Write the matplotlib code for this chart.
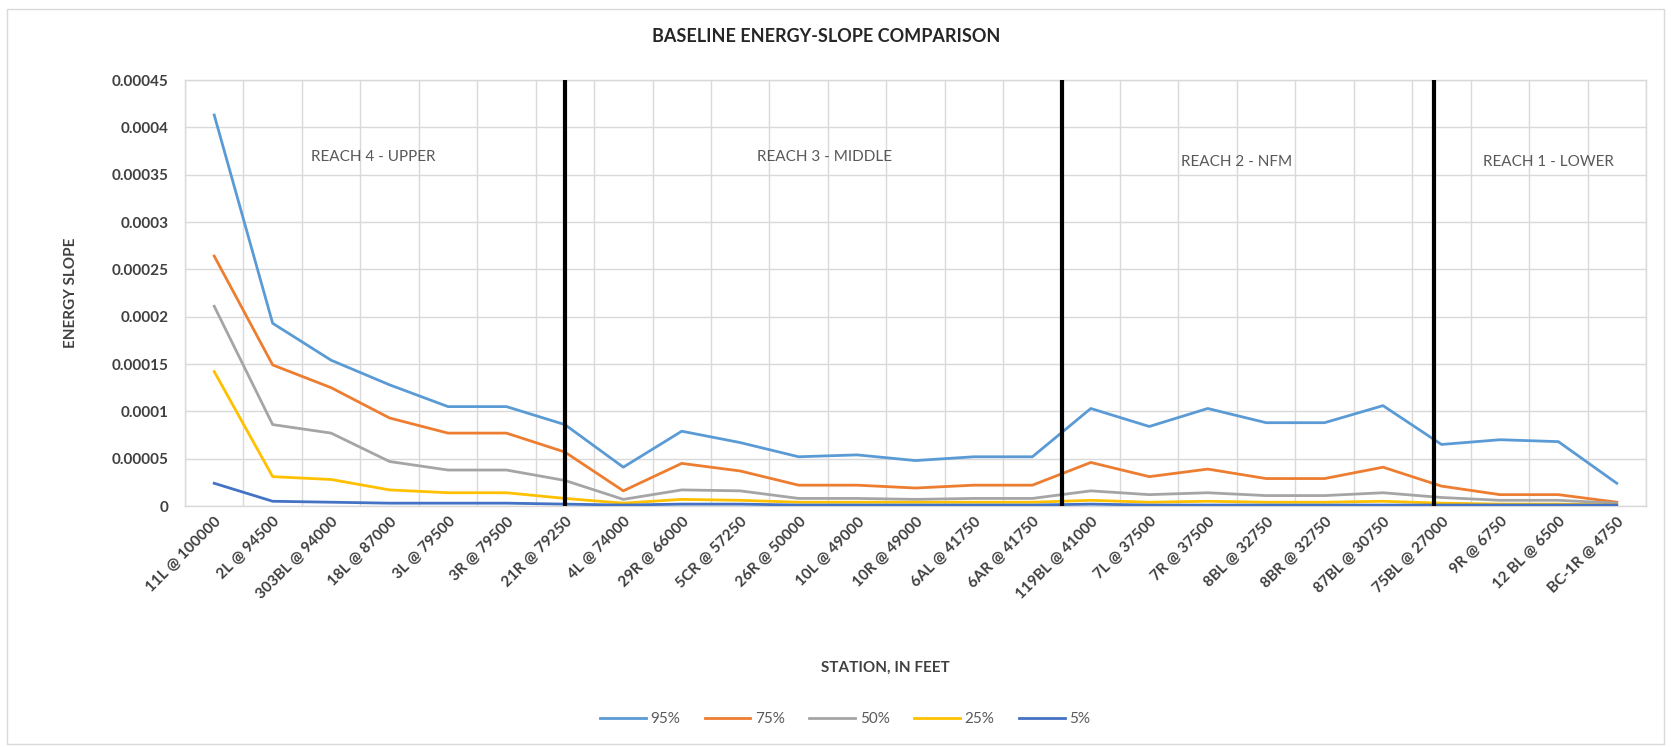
import matplotlib
matplotlib.use("Agg")
import matplotlib.pyplot as plt
from matplotlib.patches import Rectangle

plt.rcParams['font.family'] = ['Lato', 'DejaVu Sans']

stations = ["11L @ 100000", "2L @ 94500", "303BL @ 94000", "18L @ 87000", "3L @ 79500",
            "3R @ 79500", "21R @ 79250", "4L @ 74000", "29R @ 66000", "5CR @ 57250",
            "26R @ 50000", "10L @ 49000", "10R @ 49000", "6AL @ 41750", "6AR @ 41750",
            "119BL @ 41000", "7L @ 37500", "7R @ 37500", "8BL @ 32750", "8BR @ 32750",
            "87BL @ 30750", "75BL @ 27000", "9R @ 6750", "12 BL @ 6500", "BC-1R @ 4750"]

p95 = [0.000413, 0.000193, 0.000154, 0.000128, 0.000105, 0.000105, 0.000086, 0.000041,
       0.000079, 0.000067, 0.000052, 0.000054, 0.000048, 0.000052, 0.000052, 0.000103,
       0.000084, 0.000103, 0.000088, 0.000088, 0.000106, 0.000065, 0.000070, 0.000068,
       0.000024]
p75 = [0.000264, 0.000149, 0.000125, 0.000093, 0.000077, 0.000077, 0.000057, 0.000016,
       0.000045, 0.000037, 0.000022, 0.000022, 0.000019, 0.000022, 0.000022, 0.000046,
       0.000031, 0.000039, 0.000029, 0.000029, 0.000041, 0.000021, 0.000012, 0.000012,
       0.000004]
p50 = [0.000211, 0.000086, 0.000077, 0.000047, 0.000038, 0.000038, 0.000027, 0.000007,
       0.000017, 0.000016, 0.000008, 0.000008, 0.000007, 0.000008, 0.000008, 0.000016,
       0.000012, 0.000014, 0.000011, 0.000011, 0.000014, 0.000009, 0.000006, 0.000006,
       0.000003]
p25 = [0.000142, 0.000031, 0.000028, 0.000017, 0.000014, 0.000014, 0.000008, 0.000003,
       0.000007, 0.000006, 0.000004, 0.000004, 0.000004, 0.000004, 0.000004, 0.000006,
       0.000004, 0.000005, 0.000004, 0.000004, 0.000005, 0.000003, 0.000002, 0.000002,
       0.000001]
p5 = [0.000024, 0.000005, 0.000004, 0.000003, 0.000003, 0.000003, 0.000002, 0.000001,
      0.000002, 0.000002, 0.000001, 0.000001, 0.000001, 0.000001, 0.000001, 0.000002,
      0.000001, 0.000001, 0.000001, 0.000001, 0.000001, 0.000001, 0.000001, 0.000001,
      0.000001]

series_names = ["95%", "75%", "50%", "25%", "5%"]
series_colors = ["#5B9BD5", "#ED7D31", "#A5A5A5", "#FFC000", "#4472C4"]

y_ticks = [0, 0.00005, 0.0001, 0.00015, 0.0002, 0.00025, 0.0003, 0.00035, 0.0004, 0.00045]
y_tick_labels = ["0", "0.00005", "0.0001", "0.00015", "0.0002", "0.00025", "0.0003",
                 "0.00035", "0.0004", "0.00045"]

reach_dividers = [6.0, 14.5, 20.87]
reach_names = ["REACH 4 - UPPER", "REACH 3 - MIDDLE", "REACH 2 - NFM", "REACH 1 - LOWER"]
reach_label_x = [2.72, 10.45, 17.5, 22.83]
reach_label_y = [0.000369, 0.000369, 0.000363, 0.000363]

W, H = 1671, 747
fig = plt.figure(figsize=(W / 100, H / 100), dpi=100)
fig.patches.append(Rectangle((0.004, 0.004), 0.992, 0.984, transform=fig.transFigure,
                             fill=False, edgecolor="#D9D9D9", linewidth=1))

ax = fig.add_axes([185 / W, 1 - 506 / H, (1646 - 185) / W, (506 - 80) / H])

x = list(range(len(stations)))
for vals, name, col in zip([p95, p75, p50, p25, p5], series_names, series_colors):
    ax.plot(x, vals, color=col, linewidth=2.0, label=name, solid_joinstyle='round', zorder=3)

for d in reach_dividers:
    ax.axvline(d, color="black", linewidth=3.0, zorder=4)

for name, rx, ry in zip(reach_names, reach_label_x, reach_label_y):
    ax.text(rx, ry, name, ha="center", va="center", fontsize=11, color="#595959", zorder=5)

ax.set_xlim(-0.5, len(stations) - 0.5)
ax.set_ylim(0, 0.00045)
ax.set_yticks(y_ticks)
ax.set_yticklabels(y_tick_labels, fontsize=11, fontweight="bold", color="#404040")
ax.set_xticks(x)
ax.set_xticklabels(stations, rotation=45, ha="right", rotation_mode="anchor",
                   fontsize=11, fontweight="bold", color="#404040")
ax.set_xticks([i - 0.5 for i in range(len(stations) + 1)], minor=True)
ax.tick_params(axis="both", which="both", length=0)
ax.tick_params(axis="y", pad=12)
ax.tick_params(axis="x", pad=6)
ax.grid(True, which="major", axis="y", color="#D9D9D9", linewidth=1)
ax.grid(True, which="minor", axis="x", color="#D9D9D9", linewidth=1)
ax.set_axisbelow(True)
for s in ax.spines.values():
    s.set_color("#D9D9D9")
    s.set_linewidth(1)

ax.set_ylabel("ENERGY SLOPE", fontsize=11, fontweight="bold", color="#404040", labelpad=24)
fig.text(885 / W, 1 - 668 / H, "STATION, IN FEET", ha="center", va="center",
         fontsize=11, fontweight="bold", color="#404040")
fig.text(826 / W, 1 - 37 / H, "BASELINE ENERGY-SLOPE COMPARISON", ha="center", va="center",
         fontsize=13, fontweight="bold", color="#262626")

fig.legend(loc="center", bbox_to_anchor=(845 / W, 1 - 719 / H), ncol=5, frameon=False,
           fontsize=11, handlelength=3.0, columnspacing=1.6, handletextpad=0.3,
           labelcolor="#595959")

fig.savefig("out.png", dpi=100)
